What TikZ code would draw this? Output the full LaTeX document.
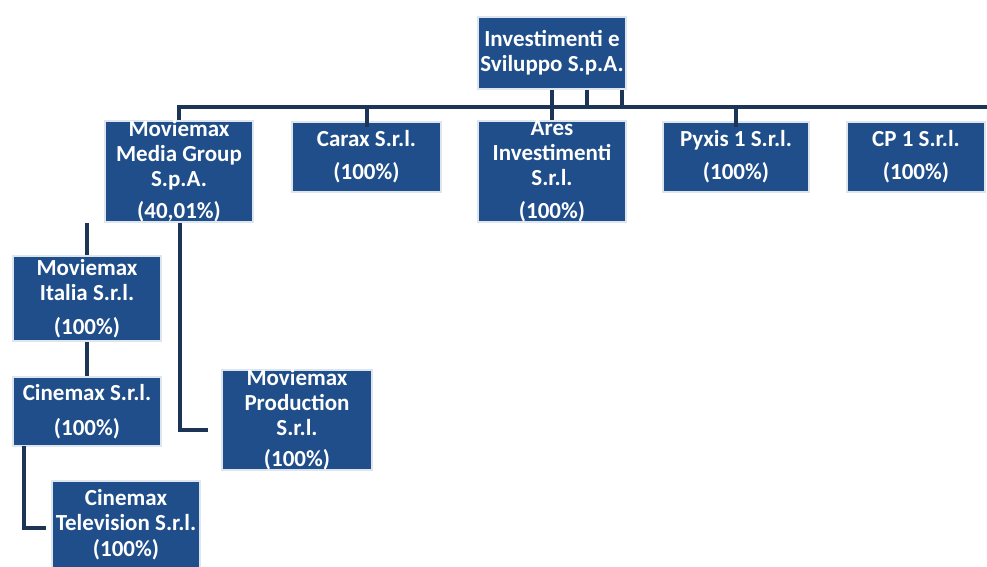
\documentclass[tikz,border=0pt]{standalone}
\usepackage{fontspec}
\setmainfont{Carlito}
\definecolor{boxblue}{HTML}{1F4E8A}
\definecolor{edgeblue}{HTML}{DDE5EE}
\definecolor{lineblue}{HTML}{1C3557}
\begin{document}
\begin{tikzpicture}[x=1pt,y=-1pt,
  orgbox/.style={draw=edgeblue, line width=2pt, fill=boxblue, text=white, inner sep=0pt,
    align=center, font=\fontsize{23}{25}\selectfont\bfseries},
  link/.style={draw=lineblue, line width=4pt}]
\useasboundingbox (0,0) rectangle (987,567);
\node[orgbox, minimum width=148, minimum height=72] (top) at (552,53) {Investimenti e\\Sviluppo S.p.A.};
\node[orgbox, minimum width=148, minimum height=99] (mmg) at (179,171.5) {Moviemax\\Media Group\\S.p.A.\\[7pt](40,01\%)};
\node[orgbox, minimum width=149, minimum height=70] (carax) at (366.5,157) {Carax S.r.l.\\[8pt](100\%)};
\node[orgbox, minimum width=148, minimum height=99] (ares) at (552,171.5) {Ares\\Investimenti\\S.r.l.\\[8pt](100\%)};
\node[orgbox, minimum width=146, minimum height=70] (pyxis) at (736,157) {Pyxis 1 S.r.l.\\[8pt](100\%)};
\node[orgbox, minimum width=138, minimum height=70] (cp) at (916,157) {CP 1 S.r.l.\\[8pt](100\%)};
\node[orgbox, minimum width=148, minimum height=85] (italia) at (87,298.5) {Moviemax\\Italia S.r.l.\\[9pt](100\%)};
\node[orgbox, minimum width=148, minimum height=69] (cinemax) at (87,411.5) {Cinemax S.r.l.\\[10pt](100\%)};
\node[orgbox, minimum width=150, minimum height=96] (prod) at (297,420) {Moviemax\\Production\\S.r.l.\\[6pt](100\%)};
\node[orgbox, minimum width=148, minimum height=88] (tv) at (126,525) {Cinemax\\Television S.r.l.\\[1pt](100\%)};
% bus
\coordinate (busL) at (179,107);
\coordinate (busR) at (995,107);
\draw[link] (busL |- mmg.north) -- (busL) -- (busR);
\draw[link] (top.south) -- (ares.north);
\draw[link] ([xshift=35pt]top.south) -- ([xshift=35pt]top.south |- busL);
\draw[link] ([xshift=70pt]top.south) -- ([xshift=70pt]top.south |- busL);
\draw[link] (carax.north |- busL) -- ([yshift=-6pt]carax.north);
\draw[link] (pyxis.north |- busL) -- ([yshift=-6pt]pyxis.north);
% lower tree
\coordinate (prodIn) at (208,430);
\coordinate (tvIn) at (46,528);
\coordinate (tvDown) at (24,446);
\draw[link] (italia.north |- mmg.south) -- (italia.north);
\draw[link] (italia.south) -- (cinemax.north);
\draw[link] ([xshift=1pt]mmg.south) |- (prodIn);
\draw[link] (tvDown) |- (tvIn);
\end{tikzpicture}
\end{document}
